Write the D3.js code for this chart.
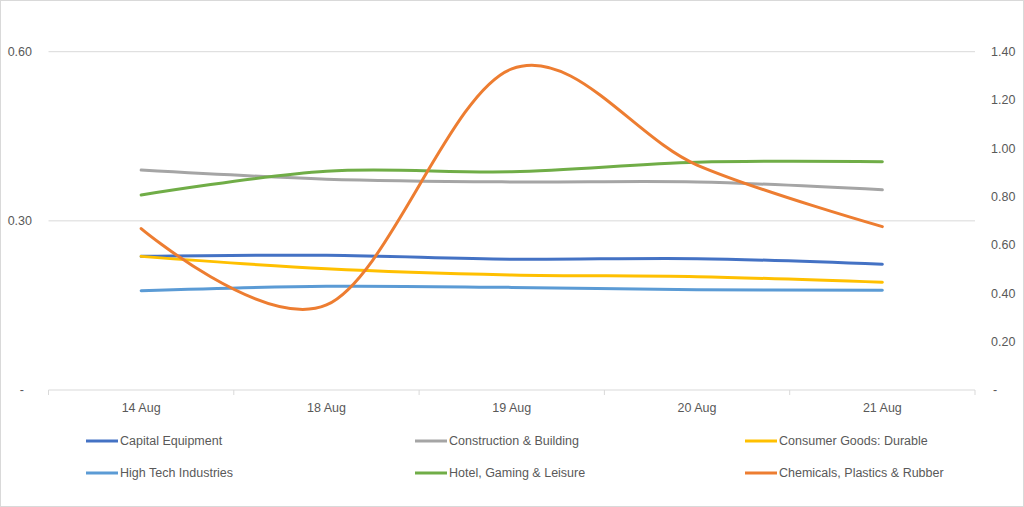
<!DOCTYPE html>
<html>
<head>
<meta charset="utf-8">
<script src="https://cdn.jsdelivr.net/npm/d3@7"></script>
<style>
  html, body { margin: 0; padding: 0; background: #fff; }
  svg { display: block; }
  text { font-family: "Liberation Sans", Arial, sans-serif; fill: #595959; }
</style>
</head>
<body>
<svg id="chart" width="1024" height="507"></svg>
<script>
// ---- data ----
const categories = ["14 Aug", "18 Aug", "19 Aug", "20 Aug", "21 Aug"];
const seriesNames = ["Capital Equipment", "Construction & Building", "Consumer Goods: Durable",
                     "High Tech Industries", "Hotel, Gaming & Leisure", "Chemicals, Plastics & Rubber"];
const capitalEquipment   = [0.237, 0.239, 0.232, 0.233, 0.223];
const constructionBuild  = [0.390, 0.374, 0.369, 0.369, 0.355];
const consumerDurable    = [0.237, 0.215, 0.204, 0.201, 0.191];
const highTech           = [0.176, 0.184, 0.182, 0.178, 0.177];
const hotelGaming        = [0.346, 0.388, 0.387, 0.404, 0.405];
const chemicalsPlastics  = [0.668, 0.352, 1.329, 0.931, 0.676]; // secondary axis
const leftTicks  = [0, 0.30, 0.60];
const rightTicks = [0, 0.20, 0.40, 0.60, 0.80, 1.00, 1.20, 1.40];

const seriesValues = [capitalEquipment, constructionBuild, consumerDurable, highTech, hotelGaming, chemicalsPlastics];
const seriesAxis = ["left", "left", "left", "left", "left", "right"];
const colors = ["#4472C4", "#A5A5A5", "#FFC000", "#5B9BD5", "#70AD47", "#ED7D31"];

// ---- layout ----
const svg = d3.select("#chart");
const W = 1024, H = 507;
const plot = { left: 48.5, right: 975, top: 51.7, bottom: 390 };

svg.append("rect").attr("x", 0.5).attr("y", 0.5).attr("width", W - 1).attr("height", H - 1)
  .attr("fill", "#fff").attr("stroke", "#d9d9d9");

const x = d3.scaleBand().domain(categories).range([plot.left, plot.right]).padding(0);
const yL = d3.scaleLinear().domain([0, 0.6]).range([plot.bottom, plot.top]);
const yR = d3.scaleLinear().domain([0, 1.4]).range([plot.bottom, plot.top]);

const fmt = v => v === 0 ? "-" : d3.format(".2f")(v);

// gridlines (left axis major)
svg.append("g").selectAll("line").data(leftTicks.filter(d => d > 0)).join("line")
  .attr("x1", plot.left).attr("x2", plot.right)
  .attr("y1", d => yL(d)).attr("y2", d => yL(d))
  .attr("stroke", "#d9d9d9").attr("stroke-width", 1);

// left axis labels
svg.append("g").selectAll("text").data(leftTicks).join("text")
  .attr("x", d => d === 0 ? 24 : 32)
  .attr("y", d => yL(d))
  .attr("dy", "0.35em")
  .attr("text-anchor", "end")
  .attr("font-size", 12.5)
  .text(fmt);

// right axis labels
svg.append("g").selectAll("text").data(rightTicks).join("text")
  .attr("x", d => d === 0 ? 993 : 991)
  .attr("y", d => yR(d))
  .attr("dy", "0.35em")
  .attr("text-anchor", "start")
  .attr("font-size", 12.5)
  .text(fmt);

// category axis
const xAxisG = svg.append("g");
xAxisG.append("line").attr("x1", plot.left).attr("x2", plot.right)
  .attr("y1", plot.bottom).attr("y2", plot.bottom).attr("stroke", "#d9d9d9");
const bounds = categories.map(c => x(c)).concat([x(categories[categories.length - 1]) + x.bandwidth()]);
xAxisG.selectAll("line.tick").data(bounds).join("line").attr("class", "tick")
  .attr("x1", d => d).attr("x2", d => d)
  .attr("y1", plot.bottom).attr("y2", plot.bottom + 5).attr("stroke", "#d9d9d9");
xAxisG.selectAll("text").data(categories).join("text")
  .attr("x", d => x(d) + x.bandwidth() / 2)
  .attr("y", 408).attr("dy", "0.35em")
  .attr("text-anchor", "middle").attr("font-size", 12.5)
  .text(d => d);

// lines
const lineGen = (yScale) => d3.line()
  .x((d, i) => x(categories[i]) + x.bandwidth() / 2)
  .y(d => yScale(d))
  .curve(d3.curveCardinal.tension(0));

seriesValues.forEach((vals, i) => {
  svg.append("path").datum(vals)
    .attr("d", lineGen(seriesAxis[i] === "left" ? yL : yR))
    .attr("fill", "none")
    .attr("stroke", colors[i])
    .attr("stroke-width", 3)
    .attr("stroke-linecap", "round");
});

// legend
const legCols = [86, 415, 745];
const legRows = [441, 473];
const leg = svg.append("g");
seriesNames.forEach((name, i) => {
  const cx = legCols[i % 3], cy = legRows[Math.floor(i / 3)];
  leg.append("line").attr("x1", cx).attr("x2", cx + 32).attr("y1", cy).attr("y2", cy)
    .attr("stroke", colors[i]).attr("stroke-width", 3);
  leg.append("text").attr("x", cx + 34).attr("y", cy).attr("dy", "0.35em")
    .attr("font-size", 12.5).text(name);
});
</script>
</body>
</html>
